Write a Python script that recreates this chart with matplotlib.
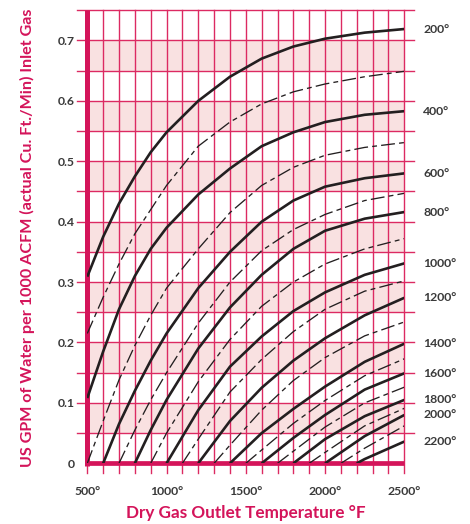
import matplotlib
matplotlib.use("Agg")
import matplotlib.pyplot as plt

# Dry gas outlet temperature grid (deg F) where the curves were read
X_GRID = [500, 600, 700, 800, 900, 1000, 1200, 1400, 1600, 1800, 2000, 2250, 2500]

# one curve per temperature; even hundreds solid (labelled), odd hundreds dashed
CURVE_TEMPS = [200, 300, 400, 500, 600, 700, 800, 900, 1000, 1100, 1200,
               1300, 1400, 1500, 1600, 1700, 1800, 1900, 2000, 2100, 2200]

N = None
CURVE_VALUES = [
    [0.309, 0.375, 0.430, 0.475, 0.515, 0.548, 0.600, 0.640, 0.670, 0.690, 0.703, 0.713, 0.719],
    [0.215, 0.275, 0.330, 0.380, 0.420, 0.460, 0.525, 0.565, 0.595, 0.615, 0.628, 0.640, 0.649],
    [0.108, 0.185, 0.255, 0.310, 0.355, 0.390, 0.445, 0.488, 0.525, 0.548, 0.565, 0.577, 0.583],
    [0.0, 0.070, 0.138, 0.195, 0.245, 0.290, 0.355, 0.415, 0.460, 0.490, 0.510, 0.523, 0.531],
    [N, 0.0, 0.065, 0.120, 0.170, 0.215, 0.290, 0.350, 0.400, 0.435, 0.458, 0.472, 0.480],
    [N, N, 0.0, 0.055, 0.105, 0.150, 0.232, 0.300, 0.352, 0.387, 0.412, 0.435, 0.447],
    [N, N, N, 0.0, 0.055, 0.105, 0.190, 0.258, 0.312, 0.355, 0.385, 0.405, 0.416],
    [N, N, N, N, 0.0, 0.050, 0.135, 0.205, 0.260, 0.300, 0.330, 0.355, 0.372],
    [N, N, N, N, N, 0.0, 0.088, 0.160, 0.210, 0.252, 0.283, 0.312, 0.331],
    [N, N, N, N, N, N, 0.040, 0.118, 0.172, 0.218, 0.255, 0.285, 0.302],
    [N, N, N, N, N, N, 0.0, 0.070, 0.125, 0.170, 0.207, 0.245, 0.274],
    [N, N, N, N, N, N, N, 0.030, 0.088, 0.137, 0.175, 0.211, 0.234],
    [N, N, N, N, N, N, N, 0.0, 0.050, 0.090, 0.127, 0.168, 0.198],
    [N, N, N, N, N, N, N, N, 0.022, 0.066, 0.104, 0.145, 0.173],
    [N, N, N, N, N, N, N, N, 0.0, 0.042, 0.080, 0.122, 0.149],
    [N, N, N, N, N, N, N, N, N, 0.020, 0.060, 0.100, 0.126],
    [N, N, N, N, N, N, N, N, N, 0.0, 0.040, 0.078, 0.105],
    [N, N, N, N, N, N, N, N, N, N, 0.018, 0.062, 0.091],
    [N, N, N, N, N, N, N, N, N, N, 0.0, 0.045, 0.080],
    [N, N, N, N, N, N, N, N, N, N, N, 0.025, 0.062],
    [N, N, N, N, N, N, N, N, N, N, N, 0.007, 0.036],
]

X_TICKS = [500, 1000, 1500, 2000, 2500]
X_TICK_LABELS = ["500°", "1000°", "1500°", "2000°", "2500°"]
Y_TICKS = [0, 0.1, 0.2, 0.3, 0.4, 0.5, 0.6, 0.7]
Y_TICK_LABELS = ["0", "0.1", "0.2", "0.3", "0.4", "0.5", "0.6", "0.7"]
BAND_LOWS = [0.05, 0.15, 0.25, 0.35, 0.45, 0.55, 0.65]

CRIMSON = "#d4145a"
GRID = "#dc2a62"
BAND = "#f9e1e1"
INK = "#231f20"
TICK_INK = "#3a3a3a"

plt.rcParams["font.family"] = ["Lato", "DejaVu Sans"]
plt.rcParams["lines.scale_dashes"] = False

fig = plt.figure(figsize=(4.70, 5.24), dpi=100)
ax = fig.add_axes([87.3 / 470, 1 - 463.3 / 524, 317 / 470, 453 / 524])
ax.set_xlim(500, 2500)
ax.set_ylim(0, 0.75)
for s in ax.spines.values():
    s.set_visible(False)

for lo in BAND_LOWS:
    ax.axhspan(lo, lo + 0.05, color=BAND, lw=0, zorder=0)

# red grid, running a little past the plot on the left/right and below
for i in range(1, 16):
    y = i * 0.05
    ax.plot([437, 2562], [y, y], color=GRID, lw=1.0, zorder=1, clip_on=False)
for t in range(600, 2600, 100):
    ax.plot([t, t], [-0.016, 0.75], color=GRID, lw=1.0, zorder=1, clip_on=False)
ax.plot([500, 500], [-0.005, 0.75], color=CRIMSON, lw=3.6, zorder=3,
        clip_on=False, solid_capstyle="butt")
ax.plot([498, 2500], [0, 0], color=CRIMSON, lw=3.4, zorder=3,
        clip_on=False, solid_capstyle="butt")
ax.plot([500, 500], [0, -0.016], color=GRID, lw=1.0, zorder=1, clip_on=False)

for temp, vals in zip(CURVE_TEMPS, CURVE_VALUES):
    xs = [x for x, v in zip(X_GRID, vals) if v is not None]
    ys = [v for v in vals if v is not None]
    if temp >= 500 and xs[0] != temp:
        xs.insert(0, temp)
        ys.insert(0, 0.0)
    solid = temp % 200 == 0
    if solid:
        ax.plot(xs, ys, color=INK, lw=1.9, zorder=4, solid_capstyle="butt",
                solid_joinstyle="round")
        ax.annotate(f"{temp}°", xy=(2500, ys[-1]), xytext=(13.5, 0),
                    textcoords="offset points", ha="left", va="center",
                    fontsize=8.8, fontweight="bold", color=TICK_INK,
                    annotation_clip=False)
    else:
        ax.plot(xs, ys, color=INK, lw=0.95, zorder=4,
                linestyle=(0, (10, 3, 3.5, 3)))

ax.set_xticks(X_TICKS)
ax.set_xticklabels(X_TICK_LABELS)
ax.set_yticks(Y_TICKS)
ax.set_yticklabels(Y_TICK_LABELS)
ax.tick_params(axis="x", length=0, pad=16, labelsize=8.8, labelcolor=TICK_INK)
ax.tick_params(axis="y", length=0, pad=9, labelsize=8.8, labelcolor=TICK_INK)
for lab in ax.get_xticklabels() + ax.get_yticklabels():
    lab.set_fontweight("bold")

fig.text(27 / 470, 1 - 238 / 524,
         "US GPM of Water per 1000 ACFM (actual Cu. Ft./Min) Inlet Gas",
         rotation=90, ha="center", va="center", fontsize=11.6,
         fontweight="bold", color=CRIMSON)
fig.text(246 / 470, 1 - 513 / 524, "Dry Gas Outlet Temperature °F",
         ha="center", va="center", fontsize=12.3, fontweight="bold",
         color=CRIMSON)

fig.savefig("out.png", dpi=100)
